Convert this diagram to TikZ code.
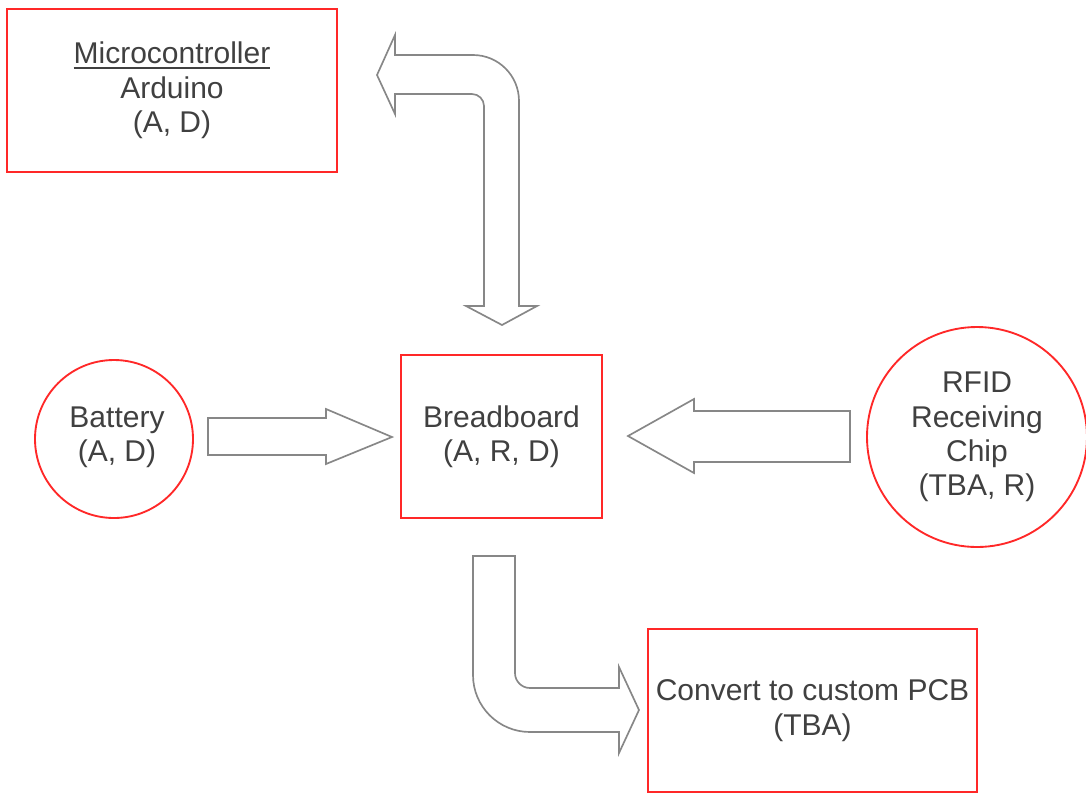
\documentclass[tikz,border=0pt]{standalone}
\usepackage{fontspec}
\setmainfont{Liberation Sans}
\definecolor{boxred}{RGB}{255,40,40}
\definecolor{txtgray}{RGB}{64,64,64}
\definecolor{arrgray}{RGB}{135,135,135}
% underlined heading with a slightly heavier, lower rule
\newcommand\headline[1]{\setbox0\hbox{#1}\vtop{\copy0\kern2.5pt\hrule height1.3pt width\wd0}}
\begin{document}
\begin{tikzpicture}[x=0.75pt,y=-0.75pt,
  every node/.style={text=txtgray,font=\fontsize{22.5}{25.8}\selectfont,align=center,inner sep=0pt},
  block/.style={draw=boxred,line width=1.5pt,rectangle},
  disc/.style={draw=boxred,line width=1.4pt,circle},
  blockarrow/.style={draw=arrgray,line width=1.25pt,fill=white,line join=miter}]
\useasboundingbox (0,0) rectangle (1086,794);

% components
\node[block,minimum width=330*0.75pt,minimum height=163*0.75pt] (mcu) at (172,90.5)
  {\headline{Microcontroller}\\Arduino\\(A, D)};
\node[block,minimum width=201*0.75pt,minimum height=163*0.75pt] (bb) at (501.5,436.5)
  {Breadboard\\(A, R, D)};
\node[block,minimum width=329*0.75pt,minimum height=163*0.75pt] (pcb) at (812.5,710.5)
  {Convert to custom PCB\\(TBA)};
\node[disc,minimum size=158*0.75pt] (bat) at (114,439) {};
\node (battxt) at (117,437) {Battery\\(A, D)};
\node[disc,minimum size=220*0.75pt] (rfid) at (977,437)
  {RFID\\Receiving\\Chip\\(TBA, R)};

% battery -> breadboard
\draw[blockarrow] (208,418) -- (326,418) -- (326,409) -- (392,437)
  -- (326,464) -- (326,455) -- (208,455) -- cycle;

% RFID chip -> breadboard
\draw[blockarrow] (850,411) -- (694,411) -- (694,399) -- (628,436)
  -- (694,473) -- (694,462) -- (850,462) -- cycle;

% two-way bent arrow between microcontroller and breadboard
\draw[blockarrow] (377,75) -- (395,35) -- (395,55) -- (473,55)
  .. controls (498.4,55) and (519,75.6) .. (519,101)
  -- (519,306) -- (537,306) -- (502,325) -- (466,306) -- (484,306)
  -- (484,106) .. controls (484,99.4) and (478.6,94) .. (472,94)
  -- (395,94) -- (395,114) -- cycle;

% breadboard -> custom PCB
\draw[blockarrow] (473,556) -- (515,556) -- (515,673)
  .. controls (515,681.3) and (521.7,688) .. (530,688)
  -- (619,688) -- (619,667) -- (639,710) -- (619,753) -- (619,732)
  -- (530,732) .. controls (498.5,732) and (473,706.5) .. (473,675) -- cycle;
\end{tikzpicture}
\end{document}
